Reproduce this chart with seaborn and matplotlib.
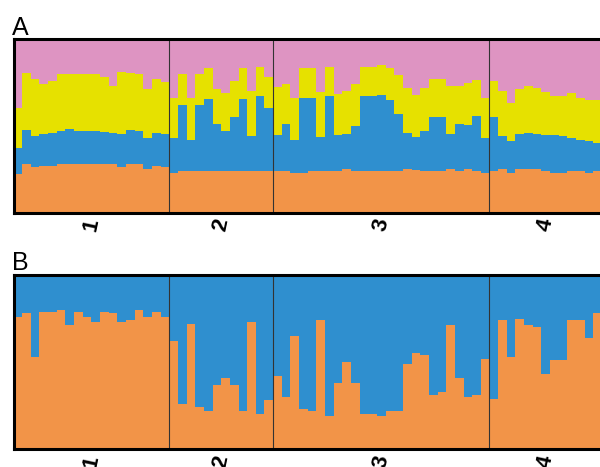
import numpy as np
import pandas as pd
import seaborn as sns
import matplotlib.pyplot as plt

pop_names = ['1', '2', '3', '4']
pop_sizes = [18, 12, 25, 13]

# K=4 memberships (panel A), one value per individual, pops 1..4 in order
k4_orange = [.22, .28, .26, .27, .27, .28, .28, .28, .28, .28, .28, .28, .26, .28, .28, .25, .27, .26,
             .23, .24, .24, .24, .24, .24, .24, .24, .24, .24, .24, .24,
             .24, .24, .23, .23, .24, .24, .24, .24, .25, .24, .24, .24, .24, .24, .24, .25, .24, .24,
             .24, .24, .25, .24, .25, .24, .23,
             .24, .25, .23, .25, .25, .25, .24, .23, .23, .24, .24, .23, .24]
k4_blue = [.15, .20, .18, .18, .19, .19, .20, .19, .19, .19, .19, .18, .19, .20, .19, .18, .19, .19,
           .20, .38, .18, .38, .42, .27, .23, .31, .42, .20, .43, .36,
           .21, .27, .19, .43, .42, .20, .43, .21, .20, .26, .43, .43, .44, .41, .33, .21, .19, .23,
           .31, .31, .20, .27, .25, .32, .20,
           .31, .19, .18, .20, .21, .20, .21, .22, .21, .19, .18, .18, .16]
k4_yellow = [.23, .33, .33, .29, .30, .33, .32, .33, .33, .33, .32, .27, .36, .33, .33, .28, .32, .30,
             .23, .18, .24, .18, .18, .20, .22, .21, .18, .26, .17, .18,
             .28, .23, .24, .17, .17, .26, .17, .24, .25, .24, .17, .17, .17, .18, .22, .26, .24, .25,
             .22, .22, .28, .22, .24, .21, .23,
             .21, .26, .22, .26, .27, .27, .25, .23, .23, .26, .24, .24, .25]
k4_pink = [.40, .20, .23, .26, .24, .20, .20, .20, .20, .20, .22, .27, .19, .20, .20, .29, .23, .25,
           .34, .20, .34, .20, .17, .29, .31, .24, .17, .30, .16, .22,
           .28, .26, .34, .17, .17, .31, .16, .32, .30, .26, .16, .16, .15, .17, .21, .28, .32, .28,
           .23, .23, .27, .27, .25, .24, .34,
           .24, .30, .37, .29, .27, .28, .31, .33, .33, .31, .34, .35, .35]

# K=2 memberships (panel B)
k2_orange = [.76, .78, .53, .79, .79, .80, .71, .79, .76, .73, .79, .78, .73, .74, .80, .76, .79, .76,
             .62, .26, .72, .24, .22, .37, .41, .37, .22, .73, .20, .28,
             .42, .30, .65, .23, .22, .74, .19, .38, .50, .38, .20, .20, .19, .22, .22, .49, .55, .54,
             .31, .33, .71, .41, .30, .31, .52,
             .29, .74, .53, .75, .71, .70, .43, .51, .51, .74, .74, .64, .78]
k2_blue = [.24, .22, .47, .21, .21, .20, .29, .21, .24, .27, .21, .22, .27, .26, .20, .24, .21, .24,
           .38, .74, .28, .76, .78, .63, .59, .63, .78, .27, .80, .72,
           .58, .70, .35, .77, .78, .26, .81, .62, .50, .62, .80, .80, .81, .78, .78, .51, .45, .46,
           .69, .67, .29, .59, .70, .69, .48,
           .71, .26, .47, .25, .29, .30, .57, .49, .49, .26, .26, .36, .22]

c_orange = '#f29448'
c_blue = '#2f8fcf'
c_yellow = '#e6e100'
c_pink = '#de94c2'


def structure_panel(ax, layers, colors):
    df = pd.DataFrame(np.array(layers).T, columns=[str(i) for i in range(len(layers))])
    df = df.div(df.sum(axis=1), axis=0)
    cum = df.cumsum(axis=1)
    df['ind'] = np.arange(len(df))
    # draw from the top layer down so each cumulative bar covers the previous one
    for i in reversed(range(len(layers))):
        sns.barplot(x=df['ind'], y=cum[str(i)], color=colors[i], width=1, saturation=1,
                    linewidth=0, errorbar=None, ax=ax)
    n = len(df)
    ax.set_xlim(-0.5, n - 0.5)
    ax.set_ylim(0, 1)
    bounds = np.cumsum(pop_sizes)
    for b in bounds[:-1]:
        ax.axvline(b - 0.5, color='#333333', lw=0.8)
    centers = bounds - np.array(pop_sizes) / 2 - 0.5
    ax.set_xticks(centers)
    ax.set_xticklabels(pop_names, rotation=78, fontsize=16, fontweight='bold', color='black')
    ax.tick_params(axis='x', length=0, pad=3)
    ax.set_yticks([])
    ax.set_xlabel('')
    ax.set_ylabel('')
    for s in ax.spines.values():
        s.set_linewidth(2.2)
        s.set_color('black')


sns.set_style('white')
plt.rcParams['font.family'] = ['Liberation Sans', 'DejaVu Sans']

fig = plt.figure(figsize=(6, 4.67), dpi=100)
axA = fig.add_axes([13.5 / 600, 254.5 / 467, 588.5 / 600, 173.5 / 467])
axB = fig.add_axes([13.5 / 600, 18 / 467, 588.5 / 600, 174 / 467])

structure_panel(axA, [k4_orange, k4_blue, k4_yellow, k4_pink],
                [c_orange, c_blue, c_yellow, c_pink])
structure_panel(axB, [k2_orange, k2_blue], [c_orange, c_blue])

fig.text(12 / 600, 1 - 35 / 467, 'A', fontsize=18, va='baseline', color='black')
fig.text(12 / 600, 1 - 270 / 467, 'B', fontsize=18, va='baseline', color='black')

fig.savefig('out.png', dpi=100)
